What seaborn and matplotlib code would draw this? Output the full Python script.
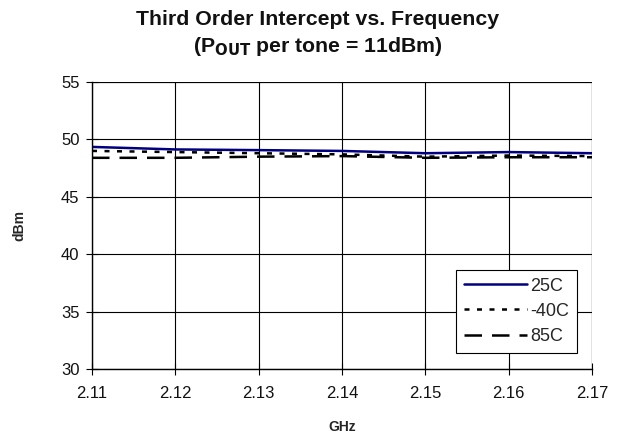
import numpy as np
import pandas as pd
import matplotlib
matplotlib.use("Agg")
import matplotlib.pyplot as plt
import seaborn as sns

freq = [2.11, 2.12, 2.13, 2.14, 2.15, 2.16, 2.17]
t25 = [49.35, 49.13, 49.07, 49.0, 48.8, 48.9, 48.8]
tm40 = [49.0, 48.9, 48.8, 48.7, 48.5, 48.6, 48.55]
t85 = [48.4, 48.4, 48.5, 48.55, 48.4, 48.45, 48.45]
labels = ["25C", "-40C", "85C"]

sns.set_theme(style="white")
plt.rcParams['font.family'] = ['Liberation Sans', 'DejaVu Sans']

fig = plt.figure(figsize=(6.23, 4.41), dpi=100)
ax = fig.add_axes([0.1477, 0.163, 0.8026, 0.651])

styles = [dict(color="#000080", linestyle="-", lw=1.8),
          dict(color="black", linestyle=(0, (2, 3)), lw=1.8),
          dict(color="black", linestyle=(0, (7, 4)), lw=1.8)]
for lab, vals, st in zip(labels, [t25, tm40, t85], styles):
    df = pd.DataFrame({"GHz": freq, "dBm": vals})
    sns.lineplot(data=df, x="GHz", y="dBm", ax=ax, label=lab, **st)

ax.set_xlim(2.11, 2.17)
ax.set_ylim(30, 55)
ax.set_xticks(freq)
ax.set_xticklabels([f"{f:.2f}" for f in freq])
ax.set_yticks([30, 35, 40, 45, 50, 55])
ax.grid(True, color="black", lw=0.8)
ax.set_axisbelow(True)
for s in ax.spines.values():
    s.set_visible(False)
ax.spines['left'].set_visible(True)
ax.spines['bottom'].set_visible(True)
ax.spines['left'].set_color("black")
ax.spines['bottom'].set_color("black")
ax.spines['left'].set_linewidth(1.0)
ax.spines['bottom'].set_linewidth(1.0)
ax.axhline(55, color="black", lw=0.8, zorder=0.5)
ax.axvline(2.17, color="black", lw=0.8, zorder=0.5)
ax.tick_params(axis="both", direction="inout", length=8, width=0.8, color="black",
               labelsize=12, labelcolor="#111111", bottom=True, left=True)
ax.tick_params(axis="x", pad=8)
ax.tick_params(axis="y", pad=5)

ax.set_xlabel("GHz", fontsize=10, fontweight="bold", labelpad=14)
ax.set_ylabel("dBm", fontsize=10, fontweight="bold", labelpad=25)

fig.text(0.51, 0.955, "Third Order Intercept vs. Frequency", ha="center", va="center",
         fontsize=15.3, fontweight="bold", color="#111111")
fig.text(0.51, 0.895, r"(P$_{\mathbf{OUT}}$ per tone = 11dBm)", ha="center", va="center",
         fontsize=15.3, fontweight="bold", color="#111111")

leg = ax.legend(loc="lower right", bbox_to_anchor=(0.97, 0.056),
                frameon=True, fancybox=False, edgecolor="black", framealpha=1,
                fontsize=13, handlelength=3.5, handletextpad=0.15, borderpad=0.45,
                labelspacing=0.45, borderaxespad=0)
leg.get_frame().set_linewidth(0.8)

fig.savefig("out.png", dpi=100, facecolor="white")
